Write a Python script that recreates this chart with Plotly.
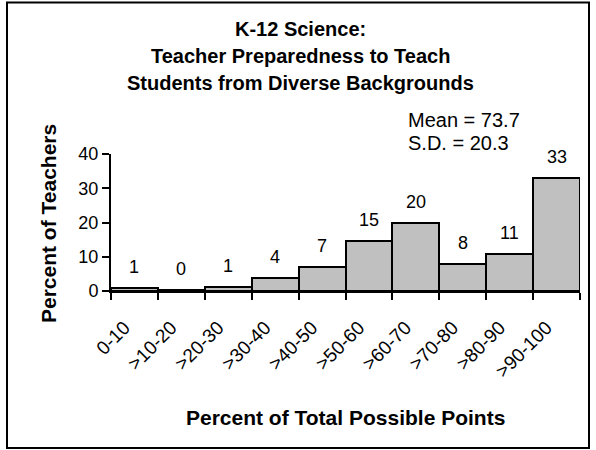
import plotly.graph_objects as go

categories = ["0-10", ">10-20", ">20-30", ">30-40", ">40-50", ">50-60", ">60-70", ">70-80", ">80-90", ">90-100"]
percent_teachers = [0.9, 0.4, 1.3, 3.9, 7.1, 14.7, 19.9, 7.9, 10.9, 32.9]
value_labels = ["1", "0", "1", "4", "7", "15", "20", "8", "11", "33"]
y_ticks = [0, 10, 20, 30, 40]
title_lines = ["K-12 Science:", "Teacher Preparedness to Teach", "Students from Diverse Backgrounds"]
stats_lines = ["Mean = 73.7", "S.D. = 20.3"]

FONT = "Liberation Sans, Arial, sans-serif"
W, H = 596, 450
L, R, T, B = 111, 16, 154, 159
PW, PH = W - L - R, H - T - B

def px_x(p):
    return (p - L) / PW

def px_y(p):
    return (H - B - p) / PH

fig = go.Figure()
fig.add_trace(go.Bar(
    x=categories, y=percent_teachers,
    marker=dict(color="#c0c0c0", line=dict(color="black", width=2)),
    hoverinfo="skip",
))

annotations = []
for c, v, t in zip(categories, percent_teachers, value_labels):
    annotations.append(dict(x=c, y=v, xref="x", yref="y", text=t, showarrow=False,
                            yanchor="bottom", yshift=9,
                            font=dict(family=FONT, size=18, color="black")))

title_centers = [29, 56, 83]
for line, yc in zip(title_lines, title_centers):
    annotations.append(dict(x=px_x(300), y=px_y(yc), xref="paper", yref="paper",
                            text="<b>%s</b>" % line, showarrow=False,
                            xanchor="center", yanchor="middle",
                            font=dict(family=FONT, size=20, color="black")))

stats_centers = [120, 143]
for line, yc in zip(stats_lines, stats_centers):
    annotations.append(dict(x=px_x(406), y=px_y(yc), xref="paper", yref="paper",
                            text=line, showarrow=False, xanchor="left", yanchor="middle",
                            font=dict(family=FONT, size=20, color="black")))

annotations.append(dict(x=px_x(48), y=px_y(224), xref="paper", yref="paper",
                        text="<b>Percent of Teachers</b>", showarrow=False, textangle=-90,
                        xanchor="center", yanchor="middle",
                        font=dict(family=FONT, size=21, color="black")))
annotations.append(dict(x=px_x(345), y=px_y(417), xref="paper", yref="paper",
                        text="<b>Percent of Total Possible Points</b>", showarrow=False,
                        xanchor="center", yanchor="middle",
                        font=dict(family=FONT, size=21, color="black")))

fig.update_layout(
    width=W, height=H,
    margin=dict(l=L, r=R, t=T, b=B, pad=0),
    paper_bgcolor="white", plot_bgcolor="white",
    bargap=0, showlegend=False,
    annotations=annotations,
    shapes=[dict(type="rect", xref="paper", yref="paper",
                 x0=px_x(7), x1=px_x(589), y0=px_y(448), y1=px_y(2.5),
                 line=dict(color="black", width=2), fillcolor="rgba(0,0,0,0)")],
    xaxis=dict(type="category", showline=True, linecolor="black", linewidth=2,
               ticks="outside", tickson="boundaries", ticklen=7, tickwidth=2, tickcolor="black",
               tickangle=-45, showgrid=False, zeroline=False,
               ticklabelstandoff=16, ticklabelshift=-10,
               tickfont=dict(family=FONT, size=19, color="black")),
    yaxis=dict(range=[0, 40], tickvals=y_ticks, showline=True, linecolor="black", linewidth=2,
               ticks="outside", ticklen=7, tickwidth=2, tickcolor="black",
               showgrid=False, zeroline=False,
               tickfont=dict(family=FONT, size=18, color="black")),
)

fig.write_html("out.html", config={"displayModeBar": False},
               post_script="document.body.style.margin='0';document.body.style.overflow='hidden';")
